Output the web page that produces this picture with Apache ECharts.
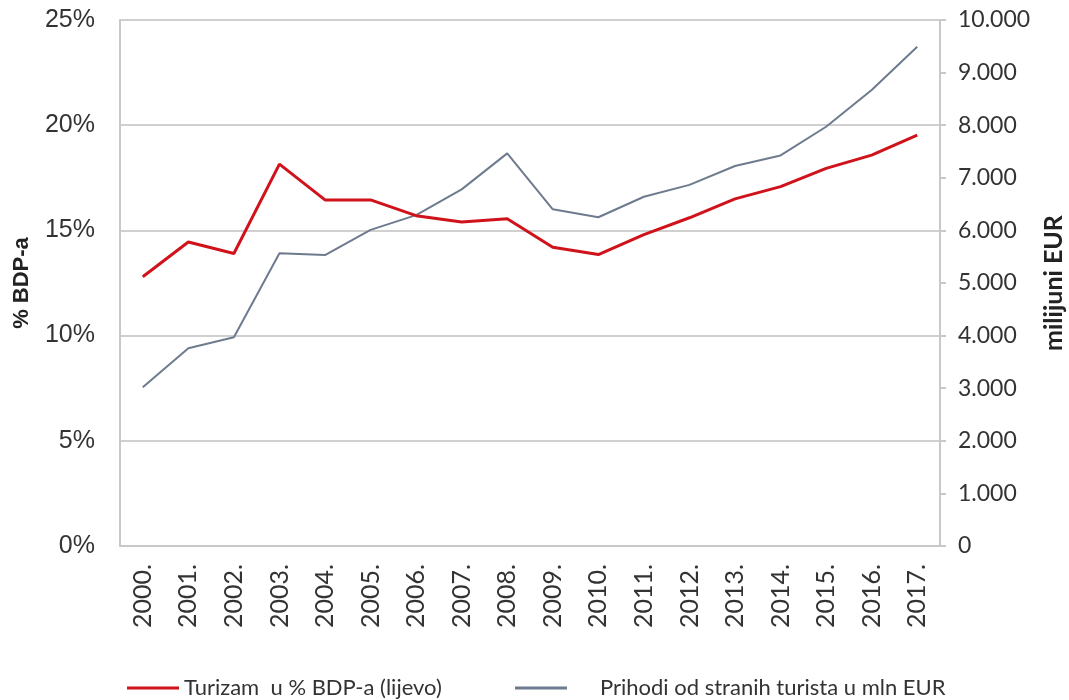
<!DOCTYPE html>
<html>
<head>
<meta charset="utf-8">
<script src="https://cdn.jsdelivr.net/npm/echarts@6/dist/echarts.min.js"></script>
<style>html,body{margin:0;padding:0;background:#fff}#c{width:1069px;height:700px}</style>
</head>
<body>
<div id="c"></div>
<script>
var years = ['2000.','2001.','2002.','2003.','2004.','2005.','2006.','2007.','2008.','2009.','2010.','2011.','2012.','2013.','2014.','2015.','2016.','2017.'];
var tourismPctGDP = [12.8, 14.45, 13.9, 18.15, 16.45, 16.45, 15.7, 15.4, 15.55, 14.2, 13.85, 14.8, 15.6, 16.5, 17.08, 17.95, 18.58, 19.53];
var foreignRevenue = [3020, 3760, 3970, 5565, 5530, 6010, 6290, 6780, 7465, 6400, 6250, 6640, 6865, 7225, 7425, 7970, 8670, 9490];
var nameRed = 'Turizam  u % BDP-a (lijevo)';
var nameGray = 'Prihodi od stranih turista u mln EUR';

var chart = echarts.init(document.getElementById('c'));
var axisGray = '#c8c8c8';
chart.setOption({
  animation: false,
  backgroundColor: '#fff',
  grid: {left: 120, right: 129, top: 20, bottom: 154, containLabel: false, outerBoundsMode: 'none'},
  legend: [
    {data: [{name: nameRed, icon: 'rect'}], left: 122, top: 672, itemWidth: 52, itemHeight: 3, itemGap: 0,
     textStyle: {fontFamily: 'Lato', fontSize: 22, color: '#333', padding: [0,0,0,0]}},
    {data: [{name: nameGray, icon: 'rect'}], left: 510, top: 672, itemWidth: 52, itemHeight: 3, itemGap: 0,
     textStyle: {fontFamily: 'Lato', fontSize: 22, color: '#333', padding: [0,0,0,28]}}
  ],
  xAxis: {
    type: 'category', data: years, boundaryGap: true,
    axisLine: {show: true, lineStyle: {color: axisGray, width: 2}},
    axisTick: {show: false},
    axisLabel: {rotate: 90, margin: 18, fontFamily: 'Lato', fontSize: 25, color: '#333', interval: 0}
  },
  yAxis: [
    {type: 'value', min: 0, max: 25, interval: 5, position: 'left',
     name: '% BDP-a', nameLocation: 'middle', nameRotate: 90, nameGap: 87,
     nameTextStyle: {fontFamily: 'Liberation Sans', fontWeight: 'bold', fontSize: 22, color: '#222'},
     axisLine: {show: true, lineStyle: {color: axisGray, width: 2}},
     axisTick: {show: false},
     axisLabel: {formatter: '{value}%', margin: 25, fontFamily: 'Liberation Sans', fontSize: 25, color: '#333'},
     splitLine: {show: true, lineStyle: {color: '#d0d0d0', width: 2}}},
    {type: 'value', min: 0, max: 10000, interval: 1000, position: 'right',
     name: 'milijuni EUR', nameLocation: 'middle', nameRotate: 90, nameGap: 101,
     nameTextStyle: {fontFamily: 'Lato', fontWeight: 'bold', fontSize: 25, color: '#222'},
     axisLine: {show: true, lineStyle: {color: axisGray, width: 2}},
     axisTick: {show: true, length: 6, inside: false, lineStyle: {color: axisGray, width: 2}},
     axisLabel: {margin: 18, fontFamily: 'Lato', fontSize: 23, color: '#333',
       formatter: function (v) { return v === 0 ? '0' : String(v).replace(/\B(?=(\d{3})+(?!\d))/g, '.'); }},
     splitLine: {show: false}}
  ],
  series: [
    {name: nameRed, type: 'line', yAxisIndex: 0, data: tourismPctGDP, symbol: 'none', z: 3,
     lineStyle: {color: '#d0121b', width: 3}, itemStyle: {color: '#d0121b'}},
    {name: nameGray, type: 'line', yAxisIndex: 1, data: foreignRevenue, symbol: 'none', z: 2,
     lineStyle: {color: '#6e7b8e', width: 2}, itemStyle: {color: '#6e7b8e'}}
  ]
});
</script>
</body>
</html>
